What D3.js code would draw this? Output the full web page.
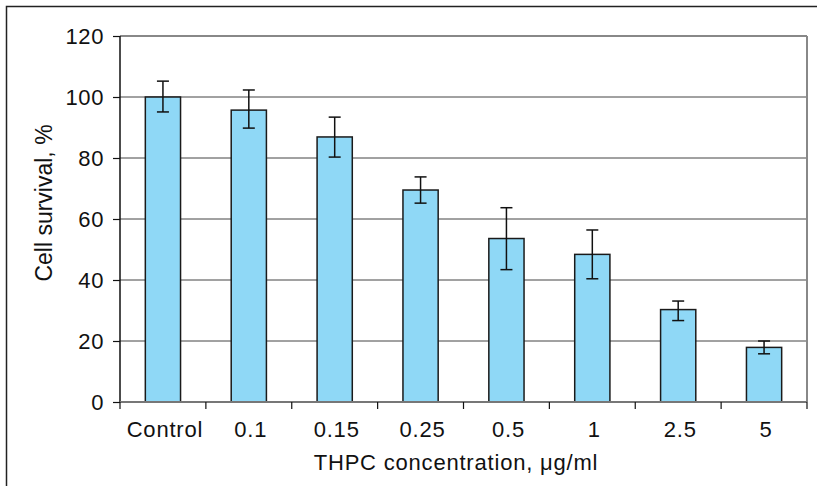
<!DOCTYPE html>
<html>
<head>
<meta charset="utf-8">
<script src="https://cdn.jsdelivr.net/npm/d3@7"></script>
<style>
  body { margin: 0; background: #fff; }
  text { font-family: "Liberation Sans", Arial, sans-serif; fill: #111; }
</style>
</head>
<body>
<div id="chart"></div>
<script>
const categories = ['Control', '0.1', '0.15', '0.25', '0.5', '1', '2.5', '5'];
const survival = [100, 95.7, 86.9, 69.5, 53.6, 48.4, 30.3, 17.9];
const errHigh = [105.2, 102.3, 93.4, 73.8, 63.7, 56.4, 33.1, 20.0];
const errLow = [95.1, 89.8, 80.3, 65.2, 43.4, 40.4, 26.7, 15.8];
const yTicks = [0, 20, 40, 60, 80, 100, 120];

const width = 817, height = 486;
const margin = { top: 36, right: 10, bottom: 84, left: 120 };
const innerW = width - margin.left - margin.right;
const innerH = height - margin.top - margin.bottom;

const svg = d3.select('#chart').append('svg')
  .attr('width', width).attr('height', height);

// outer frame (left and top edges)
svg.append('path')
  .attr('d', `M6.5,${height} V6.5 H${width}`)
  .attr('fill', 'none').attr('stroke', '#222').attr('stroke-width', 1.5);

const g = svg.append('g').attr('transform', `translate(${margin.left},${margin.top})`);

const x = d3.scaleBand().domain(categories).range([0, innerW]).paddingInner(0.59).paddingOuter(0.295);
const y = d3.scaleLinear().domain([0, 120]).range([innerH, 0]);

// gridlines
g.selectAll('.grid').data(yTicks.filter(d => d > 0)).join('line')
  .attr('x1', 0).attr('x2', innerW)
  .attr('y1', d => y(d)).attr('y2', d => y(d))
  .attr('stroke', d => d === 120 ? '#888' : '#444').attr('stroke-width', d => d === 120 ? 2 : 1);

// right border
g.append('line').attr('x1', innerW).attr('x2', innerW).attr('y1', 0).attr('y2', innerH)
  .attr('stroke', '#888').attr('stroke-width', 2);

// bars
g.selectAll('.bar').data(categories).join('rect')
  .attr('x', d => x(d)).attr('width', x.bandwidth())
  .attr('y', (d, i) => y(survival[i])).attr('height', (d, i) => innerH - y(survival[i]))
  .attr('fill', '#8fd8f6').attr('stroke', '#1a1a1a').attr('stroke-width', 1.5);

// error bars
const cap = 6;
const eb = g.selectAll('.err').data(categories).join('g')
  .attr('transform', d => `translate(${x(d) + x.bandwidth() / 2},0)`);
eb.append('line').attr('y1', (d, i) => y(errHigh[i])).attr('y2', (d, i) => y(errLow[i]))
  .attr('stroke', '#111').attr('stroke-width', 1.5);
eb.append('line').attr('x1', -cap).attr('x2', cap)
  .attr('y1', (d, i) => y(errHigh[i])).attr('y2', (d, i) => y(errHigh[i]))
  .attr('stroke', '#111').attr('stroke-width', 1.5);
eb.append('line').attr('x1', -cap).attr('x2', cap)
  .attr('y1', (d, i) => y(errLow[i])).attr('y2', (d, i) => y(errLow[i]))
  .attr('stroke', '#111').attr('stroke-width', 1.5);

// y axis
const yAxis = g.append('g').call(d3.axisLeft(y).tickValues(yTicks).tickSize(7).tickPadding(9));
yAxis.select('.domain').attr('stroke', '#111').attr('stroke-width', 1.5).attr('d', `M0,${innerH}V0`);
yAxis.selectAll('.tick line').attr('stroke', '#111').attr('stroke-width', 1.2);
yAxis.selectAll('text').style('font-size', '22px').style('letter-spacing', '0.6px').attr('fill', '#111');

// x axis with ticks at category boundaries
const xAxisG = g.append('g').attr('transform', `translate(0,${innerH})`);
xAxisG.append('line').attr('x1', 0).attr('x2', innerW).attr('stroke', '#777').attr('stroke-width', 2);
const step = x.step();
xAxisG.selectAll('.xt').data(d3.range(categories.length + 1)).join('line')
  .attr('x1', i => i * step).attr('x2', i => i * step).attr('y1', 0).attr('y2', 7)
  .attr('stroke', '#111').attr('stroke-width', 1.2);
xAxisG.selectAll('.xl').data(categories).join('text')
  .attr('x', d => x(d) + x.bandwidth() / 2 + 2).attr('y', 35)
  .attr('text-anchor', 'middle').style('font-size', '22px').style('letter-spacing', '0.8px')
  .text(d => d);

// axis titles
svg.append('text')
  .attr('x', 456).attr('y', 470)
  .attr('text-anchor', 'middle').style('font-size', '22px').style('letter-spacing', '0.8px')
  .text('THPC concentration, μg/ml');
svg.append('text')
  .attr('transform', 'translate(52,203) rotate(-90)')
  .attr('text-anchor', 'middle').style('font-size', '23px')
  .text('Cell survival, %');
</script>
</body>
</html>
